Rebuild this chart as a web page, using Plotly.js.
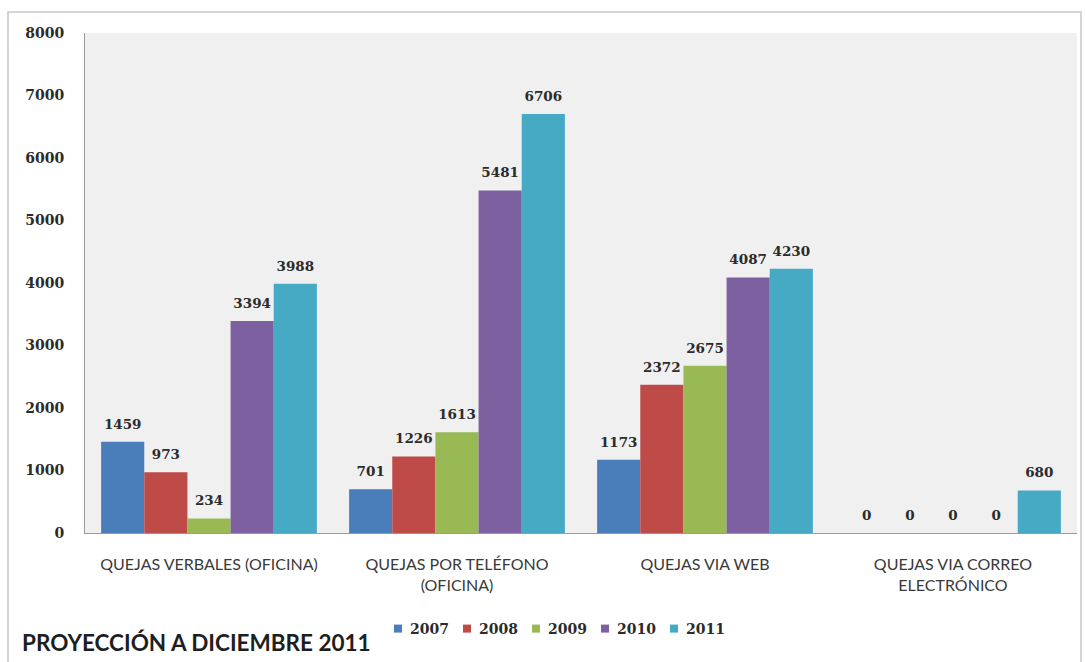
<!DOCTYPE html>
<html>
<head>
<meta charset="utf-8">
<script src="https://cdn.plot.ly/plotly-3.0.1.min.js"></script>
<style>
html,body{margin:0;padding:0;background:#fff;}
#chart{width:1085px;height:662px;}
.legend .legendpoints path{d:path("M12,4H4V-4H12Z");}
</style>
</head>
<body>
<div id="chart"></div>
<script>
var categories = ["QUEJAS VERBALES (OFICINA)", "QUEJAS POR TELÉFONO<br>(OFICINA)", "QUEJAS VIA WEB", "QUEJAS VIA CORREO<br>ELECTRÓNICO"];
var years = ["2007", "2008", "2009", "2010", "2011"];
var v2007 = [1459, 701, 1173, 0];
var v2008 = [973, 1226, 2372, 0];
var v2009 = [234, 1613, 2675, 0];
var v2010 = [3394, 5481, 4087, 0];
var v2011 = [3988, 6706, 4230, 680];
var yTicks = [0, 1000, 2000, 3000, 4000, 5000, 6000, 7000, 8000];
var titleText = "PROYECCIÓN A DICIEMBRE 2011";

var series = [v2007, v2008, v2009, v2010, v2011];
var colors = ["#4a7ebb", "#be4b48", "#98b954", "#7d60a0", "#46aac5"];
var serifBold = "DejaVu Serif";

var barTraces = series.map(function (vals, i) {
  return {
    type: "bar",
    name: years[i],
    x: categories,
    y: vals,
    marker: {color: colors[i], line: {width: 0}},
    legendwidth: i === series.length - 1 ? 50 : 24,
    hoverinfo: "x+y+name"
  };
});

var labelTraces = series.map(function (vals, i) {
  return {
    type: "scatter",
    mode: "markers+text",
    name: years[i],
    x: categories,
    y: vals,
    text: vals.map(String),
    texttemplate: "<b>%{text}</b>",
    textposition: "top center",
    textfont: {family: serifBold, size: 13.5, color: "#2b2b2b"},
    marker: {size: 14, opacity: 0, color: colors[i]},
    cliponaxis: false,
    showlegend: false,
    hoverinfo: "skip"
  };
});

var layout = {
  width: 1085,
  height: 662,
  margin: {l: 85, r: 8, t: 33, b: 129},
  paper_bgcolor: "#ffffff",
  plot_bgcolor: "#f0f0f0",
  barmode: "group",
  bargap: 0.13,
  bargroupgap: 0,
  scattermode: "group",
  scattergap: 0.13,
  showlegend: true,
  legend: {
    orientation: "h",
    x: (370 - 85) / 992, xanchor: "left",
    y: (533 - 629) / 500, yanchor: "middle",
    font: {family: serifBold, size: 14, color: "#2b2b2b", weight: "bold"},
    itemwidth: 30,
    traceorder: "normal"
  },
  title: {
    text: "<b>" + titleText + "</b>",
    xref: "container", yref: "container",
    x: 22 / 1085, xanchor: "left",
    y: 1 - 643 / 662, yanchor: "middle",
    font: {family: "Lato", size: 22.5, color: "#1e1e1e"}
  },
  xaxis: {
    showline: true, linecolor: "#9a9a9a", linewidth: 1,
    showgrid: false, ticks: "",
    tickfont: {family: "Lato", size: 16, color: "#3a3a3a"},
    ticklabelstandoff: 17,
    fixedrange: true
  },
  yaxis: {
    range: [0, 8000],
    tickvals: yTicks,
    ticktext: yTicks.map(String),
    showline: true, linecolor: "#9a9a9a", linewidth: 1,
    showgrid: false, zeroline: false, ticks: "",
    tickfont: {family: serifBold, size: 14, color: "#2b2b2b", weight: "bold"},
    ticklabelstandoff: 17,
    fixedrange: true
  },
  shapes: [{
    type: "rect", xref: "paper", yref: "paper",
    x0: (8 - 85) / 992, x1: (1081 - 85) / 992,
    y0: (533 - 700) / 500, y1: (533 - 12) / 500,
    line: {color: "#c8c8c8", width: 1.5},
    fillcolor: "rgba(0,0,0,0)",
    layer: "below"
  }]
};

Plotly.newPlot("chart", barTraces.concat(labelTraces), layout, {displayModeBar: false, staticPlot: true});
</script>
</body>
</html>
